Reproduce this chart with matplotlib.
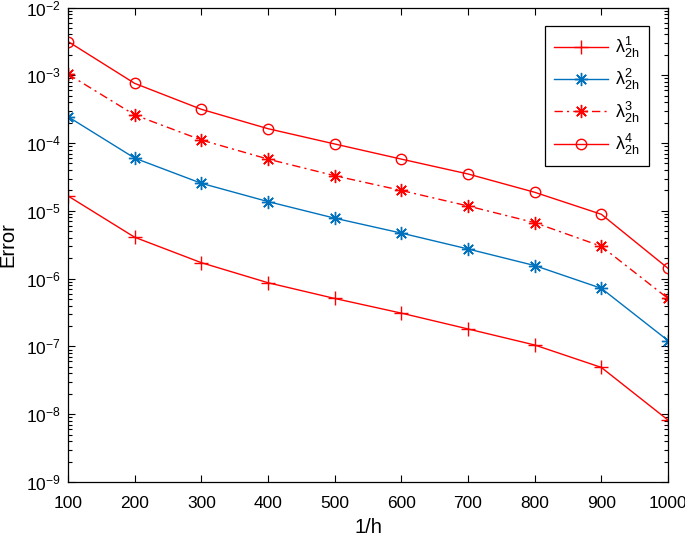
import matplotlib
matplotlib.use("Agg")
import matplotlib.pyplot as plt
import numpy as np

# values
inv_h = [100, 200, 300, 400, 500, 600, 700, 800, 900, 1000]
err_1 = [1.66e-5, 4.08e-6, 1.72e-6, 8.7e-7, 5.1e-7, 3.1e-7, 1.81e-7, 1.05e-7, 4.9e-8, 8.2e-9]
err_2 = [2.45e-4, 6.0e-5, 2.55e-5, 1.37e-5, 7.8e-6, 4.7e-6, 2.74e-6, 1.56e-6, 7.2e-7, 1.22e-7]
err_3 = [1.04e-3, 2.6e-4, 1.11e-4, 5.8e-5, 3.3e-5, 2.0e-5, 1.18e-5, 6.7e-6, 3.0e-6, 5.1e-7]
err_4 = [3.15e-3, 7.6e-4, 3.15e-4, 1.63e-4, 9.7e-5, 5.8e-5, 3.5e-5, 1.88e-5, 8.9e-6, 1.42e-6]
labels = [r"$\lambda_{2h}^{1}$", r"$\lambda_{2h}^{2}$", r"$\lambda_{2h}^{3}$", r"$\lambda_{2h}^{4}$"]

plt.rcParams['font.family'] = ['Liberation Sans', 'DejaVu Sans']
plt.rcParams['mathtext.fontset'] = 'custom'
plt.rcParams['mathtext.rm'] = 'Liberation Sans'
plt.rcParams['mathtext.it'] = 'Liberation Sans:italic'
plt.rcParams['mathtext.default'] = 'rm'

red = (1.0, 0.0, 0.0)
blue = (0.0, 0.447, 0.741)
asterisk = (8, 2, 0)

fig = plt.figure(figsize=(6.85, 5.36), dpi=100)
ax = fig.add_axes([68 / 685, 1 - 482 / 536, 600 / 685, 474.5 / 536])

ax.plot(inv_h, err_1, color=red, lw=1.0, marker='+', ms=10, mew=1.0, label=labels[0])
ax.plot(inv_h, err_2, color=blue, lw=1.0, marker=asterisk, ms=9.5, mew=1.0, label=labels[1])
ax.plot(inv_h, err_3, color=red, lw=1.0, marker=asterisk, ms=9.5, mew=1.0,
        dashes=(6, 3, 1.5, 3), label=labels[2])
ax.plot(inv_h, err_4, color=red, lw=1.0, marker='o', ms=7.5, mew=1.0,
        mfc='none', label=labels[3])

ax.set_yscale('log')
ax.set_xlim(100, 1000)
ax.set_ylim(1e-9, 1e-2)
ax.set_xticks(inv_h)
ax.set_xlabel('1/h', fontsize=14.5, labelpad=5)
ax.set_ylabel('Error', fontsize=14.5, labelpad=6)

ax.tick_params(which='both', direction='in', top=True, right=True, labelsize=12.5, width=0.8)
ax.tick_params(which='major', length=5)
ax.tick_params(which='minor', length=3)
ax.tick_params(axis='x', pad=10)
ax.tick_params(axis='y', pad=5)
for sp in ax.spines.values():
    sp.set_linewidth(0.9)

leg = ax.legend(loc='upper right', bbox_to_anchor=(0.968, 0.961), borderaxespad=0,
                fontsize=13, handlelength=3.0, labelspacing=0.4, borderpad=0.5,
                handletextpad=0.4, fancybox=False, framealpha=1, edgecolor='black')
leg.get_frame().set_linewidth(0.9)

fig.savefig('out.png', dpi=100)
